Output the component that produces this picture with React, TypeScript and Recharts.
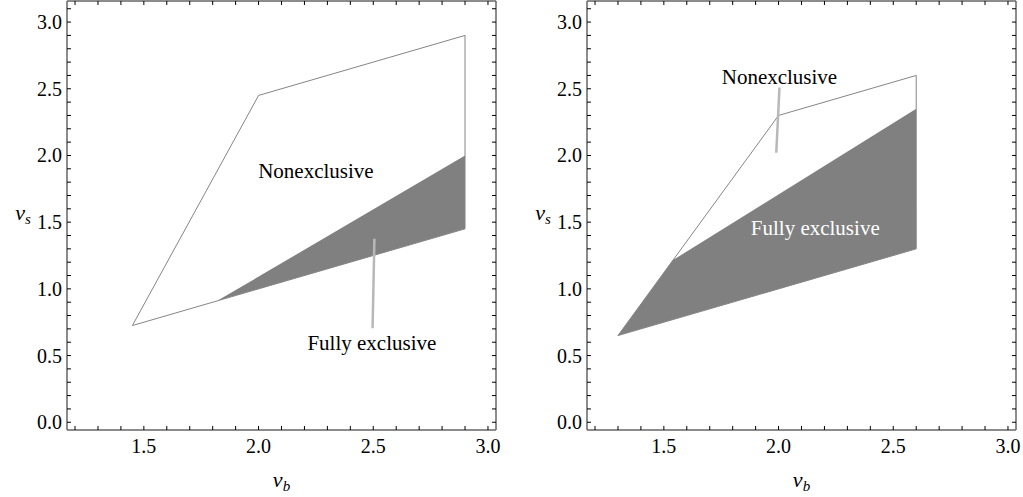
import React from 'react';
import { ComposedChart, XAxis, YAxis, Line, Area, ReferenceLine, ReferenceDot, Label } from 'recharts';

// ---- data ----
const xTicks = [1.2, 1.3, 1.4, 1.5, 1.6, 1.7, 1.8, 1.9, 2.0, 2.1, 2.2, 2.3, 2.4, 2.5, 2.6, 2.7, 2.8, 2.9, 3.0];
const yTicks = [0, 0.1, 0.2, 0.3, 0.4, 0.5, 0.6, 0.7, 0.8, 0.9, 1.0, 1.1, 1.2, 1.3, 1.4, 1.5, 1.6, 1.7, 1.8, 1.9, 2.0, 2.1, 2.2, 2.3, 2.4, 2.5, 2.6, 2.7, 2.8, 2.9, 3.0, 3.1];
const xDomain = [1.165, 3.035];
const yDomain = [-0.058, 3.158];

const leftOutline = [
  { x: 1.45, y: 0.725 },
  { x: 2.0, y: 2.45 },
  { x: 2.9, y: 2.9 },
  { x: 2.9, y: 1.45 },
  { x: 1.45, y: 0.725 },
];
const leftShaded = [
  { x: 1.82, range: [0.91, 0.91] },
  { x: 2.9, range: [1.45, 2.0] },
];
const leftPointer = [{ x: 2.497, y: 0.705 }, { x: 2.505, y: 1.375 }];

const rightOutline = [
  { x: 1.3, y: 0.65 },
  { x: 2.0, y: 2.3 },
  { x: 2.6, y: 2.6 },
  { x: 2.6, y: 1.3 },
  { x: 1.3, y: 0.65 },
];
const rightShaded = [
  { x: 1.3, range: [0.65, 0.65] },
  { x: 1.54, range: [0.77, 1.216] },
  { x: 2.6, range: [1.3, 2.35] },
];
const rightPointer = [{ x: 2.004, y: 2.51 }, { x: 1.99, y: 2.02 }];

const leftLabels = [
  { x: 2.25, y: 1.89, text: 'Nonexclusive', color: '#000' },
  { x: 2.494, y: 0.6, text: 'Fully exclusive', color: '#000' },
];
const rightLabels = [
  { x: 2.004, y: 2.59, text: 'Nonexclusive', color: '#000' },
  { x: 2.16, y: 1.456, text: 'Fully exclusive', color: '#fff' },
];

const FONT = '"Liberation Serif", "Times New Roman", serif';

const isMajor = (v: number) => Math.abs(v * 2 - Math.round(v * 2)) < 1e-6;

const makeTick = (side: 'bottom' | 'top' | 'left' | 'right') => (props: any) => {
  const { x, y, payload } = props;
  const v = payload.value as number;
  const L = 4;
  const st = { stroke: '#000', strokeWidth: 1 };
  if (side === 'bottom') {
    return (
      <g>
        <line x1={x} y1={y} x2={x} y2={y - L} {...st} />
        {isMajor(v) && (
          <text x={x} y={y + 23} textAnchor="middle" fontSize={20} fontFamily={FONT} fill="#000">
            {v.toFixed(1)}
          </text>
        )}
      </g>
    );
  }
  if (side === 'top') {
    return <line x1={x} y1={y} x2={x} y2={y + L} {...st} />;
  }
  if (side === 'left') {
    return (
      <g>
        <line x1={x} y1={y} x2={x + L} y2={y} {...st} />
        {isMajor(v) && (
          <text x={x - 5} y={y} dy="0.35em" textAnchor="end" fontSize={20} fontFamily={FONT} fill="#000">
            {v.toFixed(1)}
          </text>
        )}
      </g>
    );
  }
  return <line x1={x} y1={y} x2={x - L} y2={y} {...st} />;
};

const axisLine = { stroke: '#666', strokeWidth: 1.5 };

function Panel(props: {
  outline: any[];
  shaded: any[];
  pointer: any[];
  labels: any[];
  width: number;
  marginLeft: number;
  marginRight: number;
}) {
  const { outline, shaded, pointer, labels, width, marginLeft, marginRight } = props;
  return (
    <ComposedChart
      width={width}
      height={497}
      margin={{ top: 0, right: marginRight, bottom: 7, left: marginLeft }}
    >
      <XAxis
        xAxisId="b"
        dataKey="x"
        type="number"
        domain={xDomain}
        allowDataOverflow
        ticks={xTicks}
        interval={0}
        tickSize={0}
        tickMargin={0}
        tickLine={false}
        axisLine={axisLine}
        tick={makeTick('bottom')}
        height={60}
        orientation="bottom"
      >
        <Label
          content={(p: any) => {
            const vb = p.viewBox || {};
            return (
              <text x={vb.x + vb.width / 2} y={vb.y + 57} textAnchor="middle" fontFamily={FONT} fontSize={22} fill="#000">
                <tspan fontStyle="italic">v</tspan>
                <tspan fontStyle="italic" fontSize={15} dy={4}>b</tspan>
              </text>
            );
          }}
        />
      </XAxis>
      <XAxis
        xAxisId="t"
        dataKey="x"
        type="number"
        domain={xDomain}
        allowDataOverflow
        ticks={xTicks}
        interval={0}
        tickSize={0}
        tickMargin={0}
        tickLine={false}
        axisLine={axisLine}
        tick={makeTick('top')}
        height={1}
        orientation="top"
      />
      <YAxis
        yAxisId="l"
        type="number"
        domain={yDomain}
        allowDataOverflow
        ticks={yTicks}
        interval={0}
        tickSize={0}
        tickMargin={0}
        tickLine={false}
        axisLine={axisLine}
        tick={makeTick('left')}
        width={60}
        orientation="left"
      >
        <Label
          content={(p: any) => {
            const vb = p.viewBox || {};
            return (
              <text x={vb.x + vb.width - 44} y={vb.y + vb.height / 2 + 4} textAnchor="middle" fontFamily={FONT} fontSize={22} fill="#000">
                <tspan fontStyle="italic">v</tspan>
                <tspan fontStyle="italic" fontSize={15} dy={4}>s</tspan>
              </text>
            );
          }}
        />
      </YAxis>
      <YAxis
        yAxisId="r"
        type="number"
        domain={yDomain}
        allowDataOverflow
        ticks={yTicks}
        interval={0}
        tickSize={0}
        tickMargin={0}
        tickLine={false}
        axisLine={axisLine}
        tick={makeTick('right')}
        width={5}
        orientation="right"
      />
      <Area
        xAxisId="b"
        yAxisId="l"
        data={shaded}
        dataKey="range"
        type="linear"
        fill="#808080"
        fillOpacity={1}
        stroke="none"
        isAnimationActive={false}
      />
      <Line
        xAxisId="b"
        yAxisId="l"
        data={outline}
        dataKey="y"
        type="linear"
        stroke="#858585"
        strokeWidth={1}
        dot={false}
        activeDot={false}
        isAnimationActive={false}
      />
      <ReferenceLine
        xAxisId="b"
        yAxisId="l"
        segment={[pointer[0], pointer[1]]}
        stroke="#b8b8b8"
        strokeWidth={2.5}
      />
      {labels.map((lb, i) => (
        <ReferenceDot
          key={i}
          xAxisId="b"
          yAxisId="l"
          x={lb.x}
          y={lb.y}
          r={0}
          fill="none"
          stroke="none"
          label={{ value: lb.text, position: 'center', fill: lb.color, fontSize: 21, fontFamily: FONT }}
        />
      ))}
    </ComposedChart>
  );
}

export default function App() {
  return (
    <div style={{ position: 'absolute', left: 0, top: 0, width: 1023, height: 497, background: '#fff' }}>
      <div style={{ position: 'absolute', left: 0, top: 0 }}>
        <Panel
          outline={leftOutline}
          shaded={leftShaded}
          pointer={leftPointer}
          labels={leftLabels}
          width={511}
          marginLeft={7}
          marginRight={10}
        />
      </div>
      <div style={{ position: 'absolute', left: 511, top: 0 }}>
        <Panel
          outline={rightOutline}
          shaded={rightShaded}
          pointer={rightPointer}
          labels={rightLabels}
          width={512}
          marginLeft={16}
          marginRight={2}
        />
      </div>
    </div>
  );
}
